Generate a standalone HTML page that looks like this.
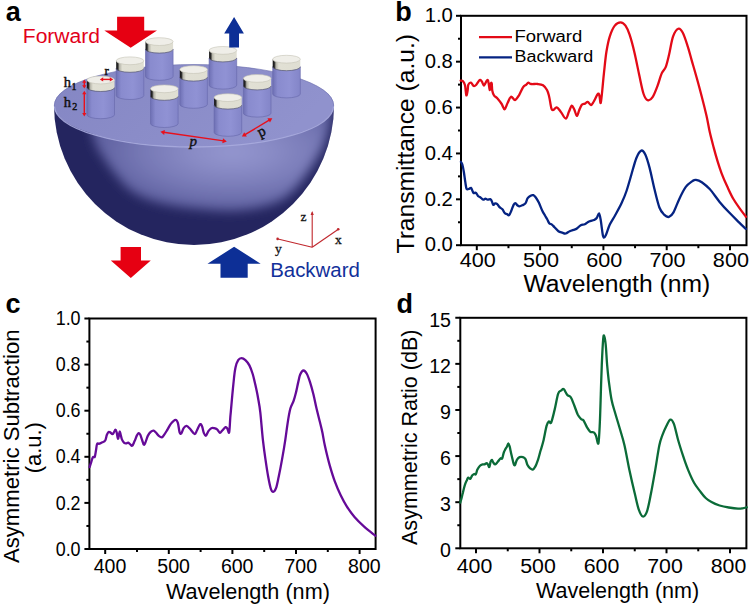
<!DOCTYPE html>
<html><head><meta charset="utf-8"><style>
html,body{margin:0;padding:0;background:#fff;width:750px;height:607px;overflow:hidden}
svg{display:block}
text{font-family:"Liberation Sans",sans-serif}
</style></head><body>
<svg width="750" height="607" viewBox="0 0 750 607">
<rect width="750" height="607" fill="#fff"/>
<defs>
<radialGradient id="light" gradientUnits="userSpaceOnUse" cx="232" cy="152" r="130" gradientTransform="translate(232 152) scale(1 0.423) translate(-232 -152)">
  <stop offset="0" stop-color="#9496cf"/>
  <stop offset="0.3" stop-color="#8a8cc6"/>
  <stop offset="0.7" stop-color="#7678b5"/>
  <stop offset="1" stop-color="#6264a3"/>
</radialGradient>
<clipPath id="bowlclip"><path d="M54,105 A140,140 0 0 0 334,105 Z"/></clipPath>
<filter id="blur5" x="-20%" y="-20%" width="140%" height="140%"><feGaussianBlur stdDeviation="5.5"/></filter>
<linearGradient id="face" x1="0" y1="0" x2="1" y2="0.3">
  <stop offset="0" stop-color="#8486c3"/>
  <stop offset="1" stop-color="#9092cd"/>
</linearGradient>
<linearGradient id="cylb" x1="0" y1="0" x2="1" y2="0">
  <stop offset="0" stop-color="#6e70b4"/>
  <stop offset="0.18" stop-color="#898bce"/>
  <stop offset="0.6" stop-color="#9092d4"/>
  <stop offset="1" stop-color="#8385c8"/>
</linearGradient>
<linearGradient id="caps" x1="0" y1="0" x2="1" y2="0">
  <stop offset="0" stop-color="#111"/>
  <stop offset="0.06" stop-color="#2a2a2a"/>
  <stop offset="0.12" stop-color="#b5b4a8"/>
  <stop offset="0.22" stop-color="#e1e0d4"/>
  <stop offset="1" stop-color="#dfded2"/>
</linearGradient>
</defs>
<path d="M54,105 A140,140 0 0 0 334,105 Z" fill="#24255f"/>
<g clip-path="url(#bowlclip)"><path d="M86.0,60.0 C127.2,53.3 292.8,53.3 334.0,60.0 C375.2,66.7 333.7,89.2 333.0,100.0 C332.3,110.8 331.5,117.5 330.0,125.0 C328.5,132.5 326.3,139.2 324.0,145.0 C321.7,150.8 319.0,155.0 316.0,160.0 C313.0,165.0 309.7,170.0 306.0,175.0 C302.3,180.0 298.3,185.7 294.0,190.0 C289.7,194.3 286.0,198.0 280.0,201.0 C274.0,204.0 266.3,206.3 258.0,208.0 C249.7,209.7 239.7,210.8 230.0,211.0 C220.3,211.2 209.2,209.8 200.0,209.0 C190.8,208.2 183.3,207.5 175.0,206.0 C166.7,204.5 157.5,202.7 150.0,200.0 C142.5,197.3 135.7,194.2 130.0,190.0 C124.3,185.8 120.2,180.0 116.0,175.0 C111.8,170.0 108.3,165.0 105.0,160.0 C101.7,155.0 98.3,150.8 96.0,145.0 C93.7,139.2 92.5,132.5 91.0,125.0 C89.5,117.5 87.8,110.8 87.0,100.0 C86.2,89.2 44.8,66.7 86.0,60.0Z" fill="url(#light)" filter="url(#blur5)"/></g>
<ellipse cx="194" cy="105.5" rx="140" ry="41" fill="url(#face)"/>
<path d="M54.5,106.5 A139.5,40.5 0 0 0 333.5,106.5" fill="none" stroke="#a9abde" stroke-width="1.3" opacity="0.9"/>
<path d="M54.3,105.5 A139.7,41 0 0 1 333.7,105.5" fill="none" stroke="#6d6fae" stroke-width="0.8" opacity="0.8"/>
<path d="M145.5,49.2 L145.5,76.4 A13.8,3.9 0 0 0 173.1,76.4 L173.1,49.2 Z" fill="url(#cylb)" stroke="#6466aa" stroke-width="0.6"/>
<path d="M145.5,41.6 L145.5,49.2 A13.8,3.9 0 0 0 173.1,49.2 L173.1,41.6 Z" fill="url(#caps)"/>
<path d="M145.5,49.2 A13.8,3.9 0 0 0 173.1,49.2" fill="none" stroke="#55566e" stroke-width="0.7"/>
<ellipse cx="159.3" cy="41.6" rx="13.8" ry="3.9" fill="#efeee8" stroke="#c4c3b6" stroke-width="0.6"/>
<path d="M209.1,58.0 L209.1,85.2 A13.8,3.9 0 0 0 236.7,85.2 L236.7,58.0 Z" fill="url(#cylb)" stroke="#6466aa" stroke-width="0.6"/>
<path d="M209.1,50.4 L209.1,58.0 A13.8,3.9 0 0 0 236.7,58.0 L236.7,50.4 Z" fill="url(#caps)"/>
<path d="M209.1,58.0 A13.8,3.9 0 0 0 236.7,58.0" fill="none" stroke="#55566e" stroke-width="0.7"/>
<ellipse cx="222.9" cy="50.4" rx="13.8" ry="3.9" fill="#efeee8" stroke="#c4c3b6" stroke-width="0.6"/>
<path d="M272.7,66.8 L272.7,94.0 A13.8,3.9 0 0 0 300.3,94.0 L300.3,66.8 Z" fill="url(#cylb)" stroke="#6466aa" stroke-width="0.6"/>
<path d="M272.7,59.2 L272.7,66.8 A13.8,3.9 0 0 0 300.3,66.8 L300.3,59.2 Z" fill="url(#caps)"/>
<path d="M272.7,66.8 A13.8,3.9 0 0 0 300.3,66.8" fill="none" stroke="#55566e" stroke-width="0.7"/>
<ellipse cx="286.5" cy="59.2" rx="13.8" ry="3.9" fill="#efeee8" stroke="#c4c3b6" stroke-width="0.6"/>
<path d="M116.2,68.4 L116.2,95.6 A13.8,3.9 0 0 0 143.8,95.6 L143.8,68.4 Z" fill="url(#cylb)" stroke="#6466aa" stroke-width="0.6"/>
<path d="M116.2,60.8 L116.2,68.4 A13.8,3.9 0 0 0 143.8,68.4 L143.8,60.8 Z" fill="url(#caps)"/>
<path d="M116.2,68.4 A13.8,3.9 0 0 0 143.8,68.4" fill="none" stroke="#55566e" stroke-width="0.7"/>
<ellipse cx="130.0" cy="60.8" rx="13.8" ry="3.9" fill="#efeee8" stroke="#c4c3b6" stroke-width="0.6"/>
<path d="M179.8,77.2 L179.8,104.4 A13.8,3.9 0 0 0 207.4,104.4 L207.4,77.2 Z" fill="url(#cylb)" stroke="#6466aa" stroke-width="0.6"/>
<path d="M179.8,69.6 L179.8,77.2 A13.8,3.9 0 0 0 207.4,77.2 L207.4,69.6 Z" fill="url(#caps)"/>
<path d="M179.8,77.2 A13.8,3.9 0 0 0 207.4,77.2" fill="none" stroke="#55566e" stroke-width="0.7"/>
<ellipse cx="193.6" cy="69.6" rx="13.8" ry="3.9" fill="#efeee8" stroke="#c4c3b6" stroke-width="0.6"/>
<path d="M243.4,86.0 L243.4,113.2 A13.8,3.9 0 0 0 271.0,113.2 L271.0,86.0 Z" fill="url(#cylb)" stroke="#6466aa" stroke-width="0.6"/>
<path d="M243.4,78.4 L243.4,86.0 A13.8,3.9 0 0 0 271.0,86.0 L271.0,78.4 Z" fill="url(#caps)"/>
<path d="M243.4,86.0 A13.8,3.9 0 0 0 271.0,86.0" fill="none" stroke="#55566e" stroke-width="0.7"/>
<ellipse cx="257.2" cy="78.4" rx="13.8" ry="3.9" fill="#efeee8" stroke="#c4c3b6" stroke-width="0.6"/>
<path d="M86.9,87.6 L86.9,114.8 A13.8,3.9 0 0 0 114.5,114.8 L114.5,87.6 Z" fill="url(#cylb)" stroke="#6466aa" stroke-width="0.6"/>
<path d="M86.9,80.0 L86.9,87.6 A13.8,3.9 0 0 0 114.5,87.6 L114.5,80.0 Z" fill="url(#caps)"/>
<path d="M86.9,87.6 A13.8,3.9 0 0 0 114.5,87.6" fill="none" stroke="#55566e" stroke-width="0.7"/>
<ellipse cx="100.7" cy="80.0" rx="13.8" ry="3.9" fill="#efeee8" stroke="#c4c3b6" stroke-width="0.6"/>
<path d="M150.5,96.4 L150.5,123.6 A13.8,3.9 0 0 0 178.1,123.6 L178.1,96.4 Z" fill="url(#cylb)" stroke="#6466aa" stroke-width="0.6"/>
<path d="M150.5,88.8 L150.5,96.4 A13.8,3.9 0 0 0 178.1,96.4 L178.1,88.8 Z" fill="url(#caps)"/>
<path d="M150.5,96.4 A13.8,3.9 0 0 0 178.1,96.4" fill="none" stroke="#55566e" stroke-width="0.7"/>
<ellipse cx="164.3" cy="88.8" rx="13.8" ry="3.9" fill="#efeee8" stroke="#c4c3b6" stroke-width="0.6"/>
<path d="M214.1,105.2 L214.1,132.4 A13.8,3.9 0 0 0 241.7,132.4 L241.7,105.2 Z" fill="url(#cylb)" stroke="#6466aa" stroke-width="0.6"/>
<path d="M214.1,97.6 L214.1,105.2 A13.8,3.9 0 0 0 241.7,105.2 L241.7,97.6 Z" fill="url(#caps)"/>
<path d="M214.1,105.2 A13.8,3.9 0 0 0 241.7,105.2" fill="none" stroke="#55566e" stroke-width="0.7"/>
<ellipse cx="227.9" cy="97.6" rx="13.8" ry="3.9" fill="#efeee8" stroke="#c4c3b6" stroke-width="0.6"/>
<path d="M117.1,16.7 L144.2,16.7 L144.2,30.6 L157.0,30.6 L130.7,47.7 L104.3,30.6 L117.1,30.6 Z" fill="#e60012"/>
<path d="M120.6,247 L141.0,247 L141.0,260.6 L150.8,260.6 L130.8,277.9 L110.8,260.6 L120.6,260.6 Z" fill="#e60012"/>
<path d="M229.2,47.6 L239.0,47.6 L239.0,33.4 L243.9,33.4 L234.1,16.9 L224.2,33.4 L229.2,33.4 Z" fill="#0d2f96"/>
<path d="M220.5,277.8 L247.7,277.8 L247.7,263.8 L260.7,263.8 L234.1,246.7 L207.5,263.8 L220.5,263.8 Z" fill="#0d2f96"/>
<line x1="102.4" y1="79.4" x2="110.6" y2="79.4" stroke="#e8101c" stroke-width="1.4"/>
<path d="M99.8,79.4 L103.2,81.5 L103.2,77.3 Z" fill="#e8101c"/>
<path d="M113.2,79.4 L109.8,81.5 L109.8,77.3 Z" fill="#e8101c"/>
<line x1="84.3" y1="82.0" x2="84.3" y2="86.0" stroke="#e8101c" stroke-width="1.4"/>
<path d="M84.3,79.4 L82.2,82.8 L86.4,82.8 Z" fill="#e8101c"/>
<path d="M84.3,88.6 L82.2,85.2 L86.4,85.2 Z" fill="#e8101c"/>
<line x1="84.3" y1="93.4" x2="84.3" y2="113.9" stroke="#e8101c" stroke-width="1.4"/>
<path d="M84.3,90.8 L82.2,94.2 L86.4,94.2 Z" fill="#e8101c"/>
<path d="M84.3,116.5 L82.2,113.1 L86.4,113.1 Z" fill="#e8101c"/>
<line x1="163.6" y1="132.3" x2="223.6" y2="140.9" stroke="#e8101c" stroke-width="1.4"/>
<path d="M160.4,131.8 L164.2,134.9 L164.9,129.9 Z" fill="#e8101c"/>
<path d="M226.8,141.4 L222.3,143.3 L223.0,138.3 Z" fill="#e8101c"/>
<line x1="244.6" y1="134.9" x2="269.6" y2="119.9" stroke="#e8101c" stroke-width="1.4"/>
<path d="M241.9,136.5 L246.8,136.6 L244.2,132.2 Z" fill="#e8101c"/>
<path d="M272.3,118.3 L270.0,122.6 L267.4,118.2 Z" fill="#e8101c"/>
<g fill="#111" stroke="#111" stroke-width="0.45" style="font-family:'Liberation Serif',serif">
<text x="104.6" y="75" style="font-family:'Liberation Serif',serif;font-size:13px">r</text>
<text x="63.8" y="86.8" style="font-family:'Liberation Serif',serif;font-size:14.5px">h</text>
<text x="71.6" y="90.2" style="font-family:'Liberation Serif',serif;font-size:10px">1</text>
<text x="63.8" y="107.2" style="font-family:'Liberation Serif',serif;font-size:14.5px">h</text>
<text x="72.2" y="110.2" style="font-family:'Liberation Serif',serif;font-size:10px">2</text>
</g>
<text x="189.4" y="146.3" style="font-family:'Liberation Serif',serif;font-size:15px;font-style:italic" fill="#111" stroke="#111" stroke-width="0.4">p</text>
<text x="258" y="136" style="font-family:'Liberation Serif',serif;font-size:15px" fill="#111" stroke="#111" stroke-width="0.4" transform="rotate(-25 262 132)">p</text>
<g stroke="#c0272d" stroke-width="1.1" fill="none"><line x1="312.2" y1="247.2" x2="312.2" y2="212.5"/><line x1="312.2" y1="247.2" x2="338" y2="229.5"/><line x1="312.2" y1="247.2" x2="278" y2="239"/></g>
<g fill="#c0272d"><path d="M312.2,211 l-1.6,4 h3.2 Z"/><circle cx="338.2" cy="229.3" r="1.3"/><circle cx="277.6" cy="238.9" r="1.3"/></g>
<text x="300.5" y="220.5" style="font-family:'Liberation Serif',serif;font-size:13.5px" fill="#111" stroke="#111" stroke-width="0.3">z</text>
<text x="335" y="244" style="font-family:'Liberation Serif',serif;font-size:13.5px" fill="#111" stroke="#111" stroke-width="0.3">x</text>
<text x="275" y="252.5" style="font-family:'Liberation Serif',serif;font-size:13.5px" fill="#111" stroke="#111" stroke-width="0.3">y</text>
<text x="5.8" y="20.6" style="font-family:'Liberation Sans',sans-serif;font-weight:bold;font-size:27px" fill="#000">a</text>
<text x="22.8" y="42.5" style="font-family:'Liberation Sans',sans-serif;font-size:19.6px" fill="#e2001a" textLength="77.2" lengthAdjust="spacingAndGlyphs">Forward</text>
<text x="270.2" y="276.6" style="font-family:'Liberation Sans',sans-serif;font-size:19.3px" fill="#12309a" textLength="89.6" lengthAdjust="spacingAndGlyphs">Backward</text>
<rect x="461" y="15.8" width="285.5" height="229.39999999999998" fill="none" stroke="#000" stroke-width="2"/>
<line x1="476.8" y1="245.2" x2="476.8" y2="250.2" stroke="#000" stroke-width="2"/>
<line x1="540.1" y1="245.2" x2="540.1" y2="250.2" stroke="#000" stroke-width="2"/>
<line x1="603.4" y1="245.2" x2="603.4" y2="250.2" stroke="#000" stroke-width="2"/>
<line x1="666.7" y1="245.2" x2="666.7" y2="250.2" stroke="#000" stroke-width="2"/>
<line x1="730.0" y1="245.2" x2="730.0" y2="250.2" stroke="#000" stroke-width="2"/>
<line x1="508.45" y1="245.2" x2="508.45" y2="248.2" stroke="#000" stroke-width="2"/>
<line x1="571.75" y1="245.2" x2="571.75" y2="248.2" stroke="#000" stroke-width="2"/>
<line x1="635.05" y1="245.2" x2="635.05" y2="248.2" stroke="#000" stroke-width="2"/>
<line x1="698.35" y1="245.2" x2="698.35" y2="248.2" stroke="#000" stroke-width="2"/>
<line x1="461" y1="245.2" x2="456" y2="245.2" stroke="#000" stroke-width="2"/>
<line x1="461" y1="199.32" x2="456" y2="199.32" stroke="#000" stroke-width="2"/>
<line x1="461" y1="153.44" x2="456" y2="153.44" stroke="#000" stroke-width="2"/>
<line x1="461" y1="107.56" x2="456" y2="107.56" stroke="#000" stroke-width="2"/>
<line x1="461" y1="61.67999999999998" x2="456" y2="61.67999999999998" stroke="#000" stroke-width="2"/>
<line x1="461" y1="15.799999999999983" x2="456" y2="15.799999999999983" stroke="#000" stroke-width="2"/>
<line x1="461" y1="222.26" x2="458" y2="222.26" stroke="#000" stroke-width="2"/>
<line x1="461" y1="176.38" x2="458" y2="176.38" stroke="#000" stroke-width="2"/>
<line x1="461" y1="130.5" x2="458" y2="130.5" stroke="#000" stroke-width="2"/>
<line x1="461" y1="84.62" x2="458" y2="84.62" stroke="#000" stroke-width="2"/>
<line x1="461" y1="38.73999999999998" x2="458" y2="38.73999999999998" stroke="#000" stroke-width="2"/>
<text x="477.7" y="267" text-anchor="middle" style="font-family:'Liberation Sans',sans-serif;font-size:19.3px" textLength="36.1" lengthAdjust="spacingAndGlyphs">400</text>
<text x="541.0" y="267" text-anchor="middle" style="font-family:'Liberation Sans',sans-serif;font-size:19.3px" textLength="36.1" lengthAdjust="spacingAndGlyphs">500</text>
<text x="604.3" y="267" text-anchor="middle" style="font-family:'Liberation Sans',sans-serif;font-size:19.3px" textLength="36.1" lengthAdjust="spacingAndGlyphs">600</text>
<text x="667.6" y="267" text-anchor="middle" style="font-family:'Liberation Sans',sans-serif;font-size:19.3px" textLength="36.1" lengthAdjust="spacingAndGlyphs">700</text>
<text x="730.9" y="267" text-anchor="middle" style="font-family:'Liberation Sans',sans-serif;font-size:19.3px" textLength="36.1" lengthAdjust="spacingAndGlyphs">800</text>
<text x="452.9" y="251.4" text-anchor="end" style="font-family:'Liberation Sans',sans-serif;font-size:20px" textLength="28.2" lengthAdjust="spacingAndGlyphs">0.0</text>
<text x="452.9" y="205.5" text-anchor="end" style="font-family:'Liberation Sans',sans-serif;font-size:20px" textLength="28.2" lengthAdjust="spacingAndGlyphs">0.2</text>
<text x="452.9" y="159.6" text-anchor="end" style="font-family:'Liberation Sans',sans-serif;font-size:20px" textLength="28.2" lengthAdjust="spacingAndGlyphs">0.4</text>
<text x="452.9" y="113.8" text-anchor="end" style="font-family:'Liberation Sans',sans-serif;font-size:20px" textLength="28.2" lengthAdjust="spacingAndGlyphs">0.6</text>
<text x="452.9" y="67.9" text-anchor="end" style="font-family:'Liberation Sans',sans-serif;font-size:20px" textLength="28.2" lengthAdjust="spacingAndGlyphs">0.8</text>
<text x="452.9" y="22.0" text-anchor="end" style="font-family:'Liberation Sans',sans-serif;font-size:20px" textLength="28.2" lengthAdjust="spacingAndGlyphs">1.0</text>
<text x="523.4" y="292.2" style="font-family:'Liberation Sans',sans-serif;font-size:23px" textLength="186.8" lengthAdjust="spacingAndGlyphs">Wavelength (nm)</text>
<text transform="translate(414,253.5) rotate(-90)" x="0" y="0" style="font-family:'Liberation Sans',sans-serif;font-size:24.8px" textLength="219.5" lengthAdjust="spacingAndGlyphs">Transmittance (a.u.)</text>
<text x="395.2" y="20.8" style="font-family:'Liberation Sans',sans-serif;font-weight:bold;font-size:27px">b</text>
<line x1="479" y1="37.2" x2="512" y2="37.2" stroke="#e30a17" stroke-width="2.3"/>
<line x1="479" y1="57.4" x2="512" y2="57.4" stroke="#052382" stroke-width="2.3"/>
<text x="514.5" y="41.5" style="font-family:'Liberation Sans',sans-serif;font-size:15.6px" textLength="67.8" lengthAdjust="spacingAndGlyphs">Forward</text>
<text x="514.5" y="61.5" style="font-family:'Liberation Sans',sans-serif;font-size:15.6px" textLength="78.6" lengthAdjust="spacingAndGlyphs">Backward</text>
<path d="M460.6,80.7 C461.0,80.8 462.3,80.5 463.0,81.3 C463.7,82.1 464.4,83.0 465.0,85.3 C465.6,87.6 465.9,94.5 466.3,95.3 C466.8,96.1 467.4,91.8 467.7,90.0 C468.0,88.2 467.8,85.9 468.3,84.7 C468.9,83.5 470.1,82.5 471.0,82.7 C471.9,82.9 472.8,85.7 473.7,86.0 C474.6,86.3 475.3,85.7 476.3,84.7 C477.3,83.7 478.8,80.6 479.7,80.0 C480.6,79.4 481.0,80.4 481.7,81.3 C482.4,82.2 483.1,84.8 483.7,85.3 C484.2,85.8 484.4,84.8 485.0,84.0 C485.6,83.2 486.4,80.8 487.0,80.3 C487.6,79.8 487.9,79.7 488.3,81.3 C488.8,82.9 489.3,89.5 489.7,90.0 C490.1,90.5 490.4,85.1 490.7,84.0 C491.0,82.9 491.4,82.2 491.7,83.3 C492.0,84.4 491.9,88.7 492.3,90.7 C492.7,92.7 493.1,94.0 494.0,95.3 C494.9,96.6 496.4,97.2 497.7,98.7 C499.0,100.2 500.5,102.2 501.7,104.0 C502.9,105.8 503.6,109.5 504.6,109.3 C505.6,109.1 506.6,104.8 507.7,102.7 C508.8,100.6 509.8,97.2 511.0,96.7 C512.2,96.2 513.7,100.2 515.0,100.0 C516.3,99.8 517.7,97.4 519.0,95.3 C520.3,93.2 521.8,89.1 523.0,87.3 C524.2,85.5 525.4,85.5 526.3,84.7 C527.2,83.9 527.5,82.8 528.3,82.7 C529.1,82.6 529.4,83.8 531.0,84.0 C532.6,84.2 535.7,83.8 537.7,84.0 C539.7,84.2 541.5,84.3 543.0,85.3 C544.5,86.3 546.0,88.2 547.0,90.0 C548.0,91.8 548.4,93.7 549.0,96.0 C549.6,98.3 550.1,101.8 550.5,104.0 C550.9,106.2 551.1,107.9 551.6,108.9 C552.1,109.9 552.6,110.3 553.5,110.0 C554.4,109.7 555.5,107.0 556.7,107.3 C558.0,107.6 559.5,110.2 561.0,112.1 C562.5,114.0 564.5,118.6 565.8,118.5 C567.1,118.4 568.0,113.7 569.0,111.6 C570.0,109.5 570.8,106.0 571.7,105.7 C572.6,105.4 573.4,107.8 574.3,109.5 C575.1,111.2 576.0,115.7 576.8,115.9 C577.6,116.1 578.3,112.4 579.1,110.5 C579.9,108.6 580.8,105.9 581.8,104.7 C582.8,103.5 584.0,104.1 585.0,103.6 C586.0,103.1 586.7,101.6 587.7,101.8 C588.7,102.0 589.9,105.0 590.9,105.0 C591.9,105.0 592.4,103.8 593.5,102.0 C594.6,100.2 596.8,95.1 597.8,94.0 C598.8,92.9 598.9,94.1 599.4,95.6 C599.9,97.1 600.2,104.2 600.7,103.1 C601.2,102.0 601.9,94.1 602.4,89.0 C602.9,83.9 603.3,78.9 604.0,72.6 C604.7,66.3 605.5,57.2 606.5,51.2 C607.5,45.2 608.4,40.6 609.8,36.3 C611.2,32.0 613.0,27.9 614.8,25.6 C616.6,23.3 618.7,22.3 620.5,22.3 C622.3,22.3 624.0,23.5 625.5,25.6 C627.0,27.7 628.1,30.2 629.6,34.7 C631.1,39.2 632.9,45.9 634.5,52.8 C636.1,59.6 637.9,68.9 639.4,75.8 C640.9,82.7 642.2,89.9 643.6,94.0 C645.0,98.1 646.2,99.7 647.7,100.2 C649.2,100.7 651.0,99.6 652.6,97.2 C654.2,94.8 656.1,89.7 657.6,85.7 C659.1,81.7 660.3,76.6 661.7,73.4 C663.1,70.2 664.6,70.0 665.8,66.8 C667.0,63.6 667.9,59.4 669.1,54.4 C670.3,49.4 671.5,41.0 673.0,36.7 C674.5,32.4 676.7,29.5 678.3,28.8 C679.9,28.1 681.2,29.8 682.8,32.8 C684.4,35.8 686.3,42.0 687.8,46.6 C689.3,51.2 690.4,55.8 691.7,60.4 C693.0,65.0 694.1,68.4 695.7,74.3 C697.4,80.2 699.8,89.1 701.6,96.0 C703.4,102.9 705.1,109.7 706.5,115.7 C707.9,121.7 708.5,126.5 709.7,131.8 C710.9,137.1 712.4,142.7 713.7,147.6 C715.0,152.5 716.3,157.1 717.6,161.4 C718.9,165.7 720.0,169.0 721.6,173.3 C723.2,177.6 725.5,182.8 727.5,187.1 C729.5,191.4 731.4,195.6 733.4,199.0 C735.4,202.4 737.2,204.9 739.3,207.8 C741.4,210.8 744.8,215.2 745.9,216.7" fill="none" stroke="#e30a17" stroke-width="2.3" stroke-linejoin="round" stroke-linecap="round"/>
<path d="M460.9,161.9 C461.1,162.4 461.9,163.1 462.4,164.8 C462.9,166.5 463.4,169.2 463.9,172.2 C464.4,175.2 464.9,179.8 465.4,182.6 C465.8,185.4 466.0,187.8 466.6,188.8 C467.2,189.8 468.4,189.0 469.1,188.8 C469.8,188.6 470.5,187.6 471.0,187.8 C471.5,188.0 471.7,189.1 472.1,190.0 C472.5,190.9 472.9,192.6 473.5,193.0 C474.1,193.4 475.1,192.2 475.8,192.7 C476.6,193.2 477.3,195.2 478.0,196.0 C478.7,196.8 479.3,196.6 480.2,197.2 C481.1,197.8 482.3,199.5 483.2,199.7 C484.1,199.9 484.7,198.6 485.4,198.6 C486.1,198.6 486.7,199.6 487.6,199.7 C488.5,199.8 489.9,198.8 490.6,199.2 C491.4,199.6 491.7,200.9 492.1,201.9 C492.6,202.9 492.8,204.7 493.3,204.9 C493.8,205.2 494.3,203.5 495.0,203.4 C495.7,203.3 496.6,203.5 497.3,204.1 C498.1,204.7 498.6,206.2 499.5,207.1 C500.4,208.0 501.5,208.3 502.4,209.3 C503.3,210.3 503.9,212.2 504.7,213.0 C505.4,213.8 506.2,213.7 506.9,214.1 C507.6,214.5 508.4,215.8 509.1,215.2 C509.8,214.6 510.6,212.5 511.3,210.8 C512.0,209.1 512.9,206.2 513.6,204.9 C514.3,203.6 514.9,203.1 515.5,203.1 C516.1,203.1 516.6,204.7 517.3,205.2 C518.0,205.7 518.6,206.3 519.5,206.3 C520.4,206.3 521.5,205.7 522.5,205.2 C523.5,204.7 524.5,204.6 525.4,203.4 C526.3,202.2 526.8,199.5 527.7,198.2 C528.6,196.9 529.7,196.2 530.6,195.7 C531.5,195.2 532.4,194.9 533.3,195.2 C534.2,195.5 534.9,196.3 535.8,197.5 C536.7,198.7 537.7,200.4 538.8,202.6 C539.9,204.8 541.3,208.7 542.3,210.8 C543.3,213.0 544.2,214.1 545.0,215.5 C545.8,216.9 546.5,218.0 547.2,219.3 C547.9,220.6 548.4,222.3 549.2,223.2 C550.0,224.1 551.0,223.9 551.9,224.6 C552.8,225.3 553.4,226.1 554.5,227.2 C555.6,228.3 557.1,230.3 558.4,231.2 C559.7,232.1 561.2,232.3 562.4,232.7 C563.6,233.1 564.5,233.8 565.7,233.5 C566.9,233.2 568.4,231.8 569.7,231.2 C571.0,230.6 572.4,230.2 573.6,229.8 C574.8,229.4 575.7,229.3 576.9,228.5 C578.1,227.7 579.5,225.9 580.8,225.2 C582.1,224.5 583.6,224.9 584.8,224.3 C586.0,223.8 587.1,222.5 588.1,221.9 C589.1,221.3 589.7,221.2 590.7,220.9 C591.7,220.6 593.0,220.5 594.0,220.0 C595.0,219.5 595.9,219.1 596.7,218.0 C597.5,216.9 598.4,213.2 599.0,213.4 C599.6,213.6 600.0,215.9 600.6,219.3 C601.2,222.7 602.1,230.7 602.6,233.8 C603.1,236.9 603.4,237.5 603.9,237.7 C604.4,237.9 604.9,237.3 605.9,235.1 C606.9,232.9 608.3,227.8 609.8,224.6 C611.3,221.4 612.9,219.2 614.9,215.7 C616.9,212.1 619.6,207.4 621.5,203.3 C623.4,199.2 624.9,195.8 626.5,191.0 C628.1,186.2 629.8,180.0 631.4,174.5 C633.0,169.0 634.8,162.0 636.4,158.0 C638.0,154.0 639.8,151.2 641.3,150.6 C642.8,150.0 644.0,151.8 645.4,154.7 C646.8,157.6 648.1,162.1 649.6,167.9 C651.1,173.7 652.9,182.7 654.5,189.3 C656.1,195.9 657.8,203.2 659.4,207.5 C661.0,211.8 662.8,213.3 664.4,214.9 C666.0,216.5 667.5,217.3 669.0,216.9 C670.5,216.5 671.8,215.4 673.5,212.4 C675.2,209.4 677.2,203.4 679.2,199.2 C681.2,194.9 683.6,189.9 685.8,186.9 C688.0,183.9 690.7,182.3 692.4,181.1 C694.1,179.9 694.3,179.6 695.9,179.8 C697.5,180.0 699.5,180.6 701.8,182.2 C704.1,183.8 706.7,185.8 709.7,189.1 C712.7,192.4 716.3,197.9 719.6,201.9 C722.9,205.9 726.2,209.4 729.5,212.8 C732.8,216.2 736.6,219.9 739.3,222.6 C742.0,225.3 744.8,227.8 745.9,228.9" fill="none" stroke="#052382" stroke-width="2.3" stroke-linejoin="round" stroke-linecap="round"/>
<rect x="89.4" y="318.5" width="286.20000000000005" height="230.5" fill="none" stroke="#000" stroke-width="2"/>
<line x1="105.2" y1="549.0" x2="105.2" y2="554.0" stroke="#000" stroke-width="2"/>
<line x1="168.8" y1="549.0" x2="168.8" y2="554.0" stroke="#000" stroke-width="2"/>
<line x1="232.4" y1="549.0" x2="232.4" y2="554.0" stroke="#000" stroke-width="2"/>
<line x1="296.0" y1="549.0" x2="296.0" y2="554.0" stroke="#000" stroke-width="2"/>
<line x1="359.6" y1="549.0" x2="359.6" y2="554.0" stroke="#000" stroke-width="2"/>
<line x1="137.0" y1="549.0" x2="137.0" y2="552.0" stroke="#000" stroke-width="2"/>
<line x1="200.60000000000002" y1="549.0" x2="200.60000000000002" y2="552.0" stroke="#000" stroke-width="2"/>
<line x1="264.2" y1="549.0" x2="264.2" y2="552.0" stroke="#000" stroke-width="2"/>
<line x1="327.8" y1="549.0" x2="327.8" y2="552.0" stroke="#000" stroke-width="2"/>
<line x1="89.4" y1="549.0" x2="84.4" y2="549.0" stroke="#000" stroke-width="2"/>
<line x1="89.4" y1="502.9" x2="84.4" y2="502.9" stroke="#000" stroke-width="2"/>
<line x1="89.4" y1="456.8" x2="84.4" y2="456.8" stroke="#000" stroke-width="2"/>
<line x1="89.4" y1="410.70000000000005" x2="84.4" y2="410.70000000000005" stroke="#000" stroke-width="2"/>
<line x1="89.4" y1="364.6" x2="84.4" y2="364.6" stroke="#000" stroke-width="2"/>
<line x1="89.4" y1="318.5" x2="84.4" y2="318.5" stroke="#000" stroke-width="2"/>
<line x1="89.4" y1="525.95" x2="86.4" y2="525.95" stroke="#000" stroke-width="2"/>
<line x1="89.4" y1="479.85" x2="86.4" y2="479.85" stroke="#000" stroke-width="2"/>
<line x1="89.4" y1="433.75" x2="86.4" y2="433.75" stroke="#000" stroke-width="2"/>
<line x1="89.4" y1="387.65" x2="86.4" y2="387.65" stroke="#000" stroke-width="2"/>
<line x1="89.4" y1="341.54999999999995" x2="86.4" y2="341.54999999999995" stroke="#000" stroke-width="2"/>
<text x="110.0" y="573" text-anchor="middle" style="font-family:'Liberation Sans',sans-serif;font-size:19.3px" textLength="32.6" lengthAdjust="spacingAndGlyphs">400</text>
<text x="173.6" y="573" text-anchor="middle" style="font-family:'Liberation Sans',sans-serif;font-size:19.3px" textLength="32.6" lengthAdjust="spacingAndGlyphs">500</text>
<text x="237.2" y="573" text-anchor="middle" style="font-family:'Liberation Sans',sans-serif;font-size:19.3px" textLength="32.6" lengthAdjust="spacingAndGlyphs">600</text>
<text x="300.8" y="573" text-anchor="middle" style="font-family:'Liberation Sans',sans-serif;font-size:19.3px" textLength="32.6" lengthAdjust="spacingAndGlyphs">700</text>
<text x="364.4" y="573" text-anchor="middle" style="font-family:'Liberation Sans',sans-serif;font-size:19.3px" textLength="32.6" lengthAdjust="spacingAndGlyphs">800</text>
<text x="80.6" y="555.6" text-anchor="end" style="font-family:'Liberation Sans',sans-serif;font-size:19.3px" textLength="24.9" lengthAdjust="spacingAndGlyphs">0.0</text>
<text x="80.6" y="509.5" text-anchor="end" style="font-family:'Liberation Sans',sans-serif;font-size:19.3px" textLength="24.9" lengthAdjust="spacingAndGlyphs">0.2</text>
<text x="80.6" y="463.4" text-anchor="end" style="font-family:'Liberation Sans',sans-serif;font-size:19.3px" textLength="24.9" lengthAdjust="spacingAndGlyphs">0.4</text>
<text x="80.6" y="417.3" text-anchor="end" style="font-family:'Liberation Sans',sans-serif;font-size:19.3px" textLength="24.9" lengthAdjust="spacingAndGlyphs">0.6</text>
<text x="80.6" y="371.2" text-anchor="end" style="font-family:'Liberation Sans',sans-serif;font-size:19.3px" textLength="24.9" lengthAdjust="spacingAndGlyphs">0.8</text>
<text x="80.6" y="325.1" text-anchor="end" style="font-family:'Liberation Sans',sans-serif;font-size:19.3px" textLength="24.9" lengthAdjust="spacingAndGlyphs">1.0</text>
<text x="165.9" y="599" style="font-family:'Liberation Sans',sans-serif;font-size:22.3px" textLength="164" lengthAdjust="spacingAndGlyphs">Wavelength (nm)</text>
<text transform="translate(19.2,563) rotate(-90)" x="0" y="0" style="font-family:'Liberation Sans',sans-serif;font-size:21.6px" textLength="233.5" lengthAdjust="spacingAndGlyphs">Asymmetric Subtraction</text>
<text transform="translate(40.8,473.3) rotate(-90)" x="0" y="0" style="font-family:'Liberation Sans',sans-serif;font-size:21.6px" textLength="51.2" lengthAdjust="spacingAndGlyphs">(a.u.)</text>
<text x="5.5" y="312.6" style="font-family:'Liberation Sans',sans-serif;font-weight:bold;font-size:27px">c</text>
<path d="M89.6,467.1 C89.9,466.2 90.8,463.5 91.3,461.9 C91.8,460.3 92.2,458.2 92.8,457.3 C93.4,456.4 94.3,457.9 94.8,456.7 C95.3,455.5 95.6,452.4 96.0,450.3 C96.4,448.2 96.5,445.1 97.1,444.0 C97.7,442.9 98.5,444.0 99.4,443.7 C100.3,443.4 101.3,442.8 102.3,442.3 C103.3,441.8 104.4,441.8 105.2,440.5 C106.0,439.2 106.3,436.2 106.9,434.8 C107.5,433.4 108.0,432.3 108.6,431.9 C109.2,431.5 109.8,432.1 110.4,432.5 C111.0,432.9 111.8,434.2 112.4,434.2 C113.0,434.2 113.3,433.3 113.8,432.5 C114.3,431.7 115.0,429.6 115.5,429.6 C116.0,429.6 116.3,431.0 116.7,432.5 C117.1,434.0 117.5,438.4 117.9,438.8 C118.3,439.2 118.7,436.1 119.0,434.8 C119.3,433.6 119.5,431.3 119.8,431.3 C120.1,431.3 120.3,433.5 120.7,434.8 C121.1,436.1 121.3,438.0 121.9,439.4 C122.5,440.8 123.4,442.2 124.2,442.9 C125.0,443.6 125.8,443.4 126.5,443.4 C127.2,443.3 127.5,442.4 128.2,442.6 C128.9,442.8 129.8,444.1 130.5,444.6 C131.2,445.1 131.6,446.3 132.3,445.7 C133.0,445.1 133.8,442.8 134.6,441.1 C135.4,439.4 136.2,436.7 136.9,435.4 C137.6,434.1 138.0,433.2 138.6,433.1 C139.2,433.0 139.7,433.7 140.3,434.8 C140.9,435.9 141.5,438.4 142.1,440.0 C142.7,441.6 143.2,444.2 143.8,444.6 C144.4,445.0 144.8,443.8 145.5,442.3 C146.2,440.9 146.9,437.6 147.8,435.9 C148.7,434.2 149.7,432.8 150.7,431.9 C151.7,431.0 152.7,430.6 153.6,430.7 C154.5,430.8 155.0,431.6 155.9,432.5 C156.8,433.4 157.8,435.1 158.8,435.9 C159.8,436.7 160.9,437.4 161.7,437.4 C162.5,437.4 162.6,436.8 163.5,435.7 C164.4,434.6 165.7,432.5 166.9,430.5 C168.2,428.5 169.6,425.4 171.0,423.6 C172.4,421.8 174.4,419.9 175.6,419.8 C176.8,419.7 177.2,421.0 177.9,423.1 C178.6,425.2 179.0,430.6 179.6,432.3 C180.2,434.0 180.6,434.1 181.3,433.4 C182.0,432.7 182.7,429.4 183.6,428.2 C184.5,426.9 185.4,425.8 186.5,425.9 C187.6,426.0 188.7,427.4 190.0,428.8 C191.3,430.2 193.4,433.7 194.6,434.0 C195.8,434.3 196.0,432.1 196.9,430.5 C197.8,428.9 199.2,424.9 200.1,424.2 C201.0,423.5 201.5,425.1 202.1,426.5 C202.7,427.9 203.2,431.4 203.8,432.9 C204.4,434.4 205.1,436.0 205.9,435.7 C206.7,435.4 207.5,432.4 208.4,431.1 C209.3,429.9 210.3,428.7 211.3,428.2 C212.3,427.7 213.2,428.0 214.2,428.2 C215.2,428.4 216.1,428.6 217.1,429.4 C218.1,430.2 219.1,432.7 219.9,432.9 C220.8,433.1 221.2,431.5 222.2,430.5 C223.2,429.5 224.8,427.4 225.7,427.1 C226.6,426.8 226.8,427.9 227.4,428.8 C228.0,429.7 228.7,434.2 229.2,432.3 C229.7,430.4 230.0,420.9 230.3,417.3 C230.6,413.7 230.6,414.6 230.9,410.9 C231.2,407.2 231.8,400.6 232.3,395.1 C232.8,389.6 233.5,382.6 234.0,378.0 C234.5,373.4 234.8,370.4 235.5,367.4 C236.2,364.4 237.2,361.7 238.2,360.2 C239.2,358.7 240.3,358.2 241.5,358.2 C242.7,358.2 244.1,359.0 245.4,360.2 C246.7,361.4 248.2,363.1 249.4,365.4 C250.6,367.7 251.7,370.8 252.7,374.0 C253.7,377.2 254.4,380.7 255.3,384.6 C256.2,388.6 257.2,393.1 258.0,397.7 C258.8,402.3 259.5,405.3 260.3,412.3 C261.1,419.3 262.0,431.9 262.9,439.8 C263.8,447.7 264.6,453.5 265.5,459.6 C266.4,465.8 267.3,471.9 268.2,476.7 C269.1,481.5 270.0,486.1 270.8,488.6 C271.6,491.1 272.3,492.0 273.2,491.9 C274.1,491.8 275.2,490.4 276.1,487.9 C277.0,485.4 277.7,481.4 278.7,476.7 C279.7,472.0 280.9,465.8 282.0,459.6 C283.1,453.5 284.4,445.9 285.3,439.8 C286.2,433.8 286.8,428.5 287.6,423.3 C288.4,418.1 289.3,412.5 290.3,408.8 C291.3,405.1 292.6,403.8 293.6,400.9 C294.6,398.0 295.4,394.7 296.2,391.6 C297.0,388.5 297.5,385.2 298.2,382.4 C298.9,379.5 299.3,376.5 300.2,374.5 C301.1,372.5 302.4,370.6 303.5,370.5 C304.6,370.4 305.7,371.8 306.8,373.8 C307.9,375.8 309.0,379.0 310.1,382.4 C311.2,385.8 312.3,389.9 313.4,394.3 C314.5,398.7 315.5,404.2 316.6,408.8 C317.7,413.4 318.9,418.0 319.9,422.0 C320.9,426.0 321.7,429.0 322.5,433.0 C323.3,437.0 323.7,440.4 324.9,445.8 C326.1,451.2 328.1,459.7 329.8,465.6 C331.5,471.5 333.0,476.5 334.8,481.4 C336.6,486.3 338.7,491.1 340.7,495.2 C342.7,499.3 344.3,502.5 346.6,506.1 C348.9,509.7 351.5,513.5 354.5,517.0 C357.5,520.5 360.9,523.7 364.4,526.8 C367.9,529.9 373.5,534.2 375.3,535.7" fill="none" stroke="#650a98" stroke-width="2.3" stroke-linejoin="round" stroke-linecap="round"/>
<rect x="460.3" y="317.8" width="286.09999999999997" height="230.49999999999994" fill="none" stroke="#000" stroke-width="2"/>
<line x1="476.0" y1="548.3" x2="476.0" y2="553.3" stroke="#000" stroke-width="2"/>
<line x1="539.5" y1="548.3" x2="539.5" y2="553.3" stroke="#000" stroke-width="2"/>
<line x1="603.0" y1="548.3" x2="603.0" y2="553.3" stroke="#000" stroke-width="2"/>
<line x1="666.5" y1="548.3" x2="666.5" y2="553.3" stroke="#000" stroke-width="2"/>
<line x1="730.0" y1="548.3" x2="730.0" y2="553.3" stroke="#000" stroke-width="2"/>
<line x1="507.75" y1="548.3" x2="507.75" y2="551.3" stroke="#000" stroke-width="2"/>
<line x1="571.25" y1="548.3" x2="571.25" y2="551.3" stroke="#000" stroke-width="2"/>
<line x1="634.75" y1="548.3" x2="634.75" y2="551.3" stroke="#000" stroke-width="2"/>
<line x1="698.25" y1="548.3" x2="698.25" y2="551.3" stroke="#000" stroke-width="2"/>
<line x1="460.3" y1="548.3" x2="455.3" y2="548.3" stroke="#000" stroke-width="2"/>
<line x1="460.3" y1="502.18999999999994" x2="455.3" y2="502.18999999999994" stroke="#000" stroke-width="2"/>
<line x1="460.3" y1="456.0799999999999" x2="455.3" y2="456.0799999999999" stroke="#000" stroke-width="2"/>
<line x1="460.3" y1="409.96999999999997" x2="455.3" y2="409.96999999999997" stroke="#000" stroke-width="2"/>
<line x1="460.3" y1="363.85999999999996" x2="455.3" y2="363.85999999999996" stroke="#000" stroke-width="2"/>
<line x1="460.3" y1="317.75" x2="455.3" y2="317.75" stroke="#000" stroke-width="2"/>
<line x1="460.3" y1="525.245" x2="457.3" y2="525.245" stroke="#000" stroke-width="2"/>
<line x1="460.3" y1="479.135" x2="457.3" y2="479.135" stroke="#000" stroke-width="2"/>
<line x1="460.3" y1="433.025" x2="457.3" y2="433.025" stroke="#000" stroke-width="2"/>
<line x1="460.3" y1="386.91499999999996" x2="457.3" y2="386.91499999999996" stroke="#000" stroke-width="2"/>
<line x1="460.3" y1="340.80499999999995" x2="457.3" y2="340.80499999999995" stroke="#000" stroke-width="2"/>
<text x="474.5" y="573.2" text-anchor="middle" style="font-family:'Liberation Sans',sans-serif;font-size:19.6px" textLength="35.6" lengthAdjust="spacingAndGlyphs">400</text>
<text x="538.0" y="573.2" text-anchor="middle" style="font-family:'Liberation Sans',sans-serif;font-size:19.6px" textLength="35.6" lengthAdjust="spacingAndGlyphs">500</text>
<text x="601.5" y="573.2" text-anchor="middle" style="font-family:'Liberation Sans',sans-serif;font-size:19.6px" textLength="35.6" lengthAdjust="spacingAndGlyphs">600</text>
<text x="665.0" y="573.2" text-anchor="middle" style="font-family:'Liberation Sans',sans-serif;font-size:19.6px" textLength="35.6" lengthAdjust="spacingAndGlyphs">700</text>
<text x="728.5" y="573.2" text-anchor="middle" style="font-family:'Liberation Sans',sans-serif;font-size:19.6px" textLength="35.6" lengthAdjust="spacingAndGlyphs">800</text>
<text x="451" y="557.3" text-anchor="end" style="font-family:'Liberation Sans',sans-serif;font-size:19.6px">0</text>
<text x="451" y="511.2" text-anchor="end" style="font-family:'Liberation Sans',sans-serif;font-size:19.6px">3</text>
<text x="451" y="465.1" text-anchor="end" style="font-family:'Liberation Sans',sans-serif;font-size:19.6px">6</text>
<text x="451" y="419.0" text-anchor="end" style="font-family:'Liberation Sans',sans-serif;font-size:19.6px">9</text>
<text x="451" y="372.9" text-anchor="end" style="font-family:'Liberation Sans',sans-serif;font-size:19.6px">12</text>
<text x="451" y="326.8" text-anchor="end" style="font-family:'Liberation Sans',sans-serif;font-size:19.6px">15</text>
<text x="536" y="598.1" style="font-family:'Liberation Sans',sans-serif;font-size:22.3px" textLength="163.2" lengthAdjust="spacingAndGlyphs">Wavelength (nm)</text>
<text transform="translate(416.5,545) rotate(-90)" x="0" y="0" style="font-family:'Liberation Sans',sans-serif;font-size:22.3px" textLength="215.5" lengthAdjust="spacingAndGlyphs">Asymmetric Ratio (dB)</text>
<text x="396.5" y="312.5" style="font-family:'Liberation Sans',sans-serif;font-weight:bold;font-size:27px">d</text>
<path d="M460.3,502.6 C460.5,501.8 461.2,499.6 461.6,498.0 C462.0,496.4 462.3,494.9 462.9,492.7 C463.4,490.5 464.2,486.9 464.9,484.8 C465.6,482.7 466.3,481.4 466.9,480.2 C467.4,479.0 467.6,477.8 468.2,477.6 C468.8,477.4 469.5,479.2 470.2,478.9 C470.9,478.6 471.5,476.4 472.1,475.6 C472.8,474.8 473.5,474.2 474.1,474.0 C474.7,473.8 475.2,475.0 475.8,474.3 C476.4,473.6 476.7,471.0 477.4,469.6 C478.1,468.2 479.1,466.6 480.0,465.7 C480.9,464.8 481.9,464.6 482.7,464.4 C483.5,464.2 484.0,464.6 484.6,464.4 C485.2,464.2 486.1,463.1 486.6,463.1 C487.2,463.1 487.4,463.8 487.9,464.4 C488.3,465.0 488.9,467.4 489.3,467.0 C489.8,466.6 490.2,462.9 490.6,461.7 C491.0,460.5 491.5,459.7 491.9,459.8 C492.3,459.9 492.6,461.6 493.2,462.4 C493.8,463.2 494.4,464.5 495.2,464.4 C496.0,464.3 496.9,462.7 497.8,461.7 C498.7,460.7 499.8,458.9 500.5,458.4 C501.2,457.8 501.6,459.4 502.2,458.4 C502.8,457.4 503.2,454.1 503.8,452.5 C504.4,450.9 505.2,449.6 505.7,448.6 C506.2,447.6 506.6,447.5 507.0,446.6 C507.4,445.7 507.9,443.3 508.4,443.3 C508.8,443.3 509.1,444.5 509.7,446.6 C510.2,448.7 511.0,453.0 511.7,455.8 C512.4,458.6 513.1,462.2 513.6,463.7 C514.1,465.2 514.5,465.6 515.0,465.0 C515.5,464.4 516.1,461.1 516.9,459.8 C517.7,458.5 518.6,457.6 519.6,457.1 C520.6,456.7 521.9,456.8 522.9,457.1 C523.9,457.4 524.7,457.8 525.5,459.1 C526.3,460.4 526.7,463.5 527.5,465.0 C528.3,466.5 529.2,467.5 530.1,468.3 C531.0,469.1 531.8,469.9 532.7,469.6 C533.6,469.3 534.5,468.0 535.4,466.4 C536.3,464.8 537.1,462.4 538.0,459.8 C538.9,457.2 539.7,453.6 540.6,450.5 C541.5,447.4 542.3,445.4 543.3,441.3 C544.3,437.2 545.6,429.4 546.5,426.1 C547.4,422.8 548.0,422.0 548.8,421.4 C549.6,420.8 550.1,424.5 551.1,422.6 C552.1,420.7 553.4,414.7 554.6,409.9 C555.8,405.1 557.0,397.1 558.1,393.8 C559.2,390.5 560.5,391.1 561.5,390.3 C562.5,389.5 562.8,388.4 563.8,389.2 C564.8,390.0 566.1,393.6 567.3,394.9 C568.4,396.2 569.6,395.5 570.7,397.2 C571.9,398.9 573.0,402.4 574.2,405.3 C575.4,408.2 576.6,412.2 577.7,414.5 C578.9,416.8 580.2,418.1 581.1,419.1 C582.0,420.1 582.4,419.0 583.4,420.3 C584.4,421.6 585.8,425.3 586.9,427.2 C588.0,429.1 589.1,430.9 590.3,431.8 C591.4,432.7 592.9,431.8 593.8,432.4 C594.7,433.0 595.1,433.7 595.9,435.5 C596.7,437.3 597.8,445.4 598.4,443.4 C599.0,441.4 599.4,431.9 599.8,423.7 C600.2,415.5 600.5,404.0 600.8,394.1 C601.1,384.2 601.4,373.7 601.8,364.5 C602.2,355.3 602.8,343.5 603.2,338.8 C603.6,334.1 603.9,335.4 604.3,336.4 C604.7,337.4 605.2,340.0 605.7,344.7 C606.2,349.4 606.6,358.6 607.1,364.5 C607.6,370.4 608.0,374.4 608.7,380.3 C609.5,386.2 610.5,394.5 611.6,400.0 C612.7,405.5 613.9,408.6 615.3,413.5 C616.7,418.4 618.5,424.1 620.0,429.3 C621.5,434.6 622.8,438.2 624.4,445.0 C626.0,451.8 627.7,462.1 629.4,470.1 C631.1,478.1 633.0,486.3 634.6,492.8 C636.2,499.3 637.3,505.4 638.7,509.3 C640.1,513.2 641.4,516.2 642.8,516.5 C644.2,516.8 645.6,515.2 647.0,511.3 C648.4,507.4 649.7,499.7 651.1,492.8 C652.5,485.9 653.8,478.0 655.2,470.1 C656.6,462.2 658.1,451.2 659.3,445.4 C660.5,439.6 661.2,438.4 662.4,435.1 C663.6,431.8 665.2,428.4 666.5,425.8 C667.8,423.2 669.1,420.0 670.3,419.6 C671.5,419.2 672.5,420.4 673.8,423.7 C675.1,427.0 676.4,433.9 677.9,439.2 C679.4,444.5 681.3,450.5 683.0,455.7 C684.7,460.9 686.3,465.6 688.2,470.1 C690.1,474.7 692.2,479.5 694.2,483.0 C696.2,486.5 698.1,488.6 700.0,491.1 C701.9,493.6 703.8,496.2 705.7,498.0 C707.6,499.8 709.2,500.9 711.5,502.1 C713.8,503.4 716.7,504.6 719.6,505.5 C722.5,506.4 725.7,507.0 728.8,507.5 C731.9,508.0 735.7,508.5 738.0,508.6 C740.3,508.8 741.1,508.6 742.6,508.4 C744.1,508.2 746.0,507.5 746.7,507.3" fill="none" stroke="#0b6b38" stroke-width="2.3" stroke-linejoin="round" stroke-linecap="round"/>
</svg>
</body></html>
